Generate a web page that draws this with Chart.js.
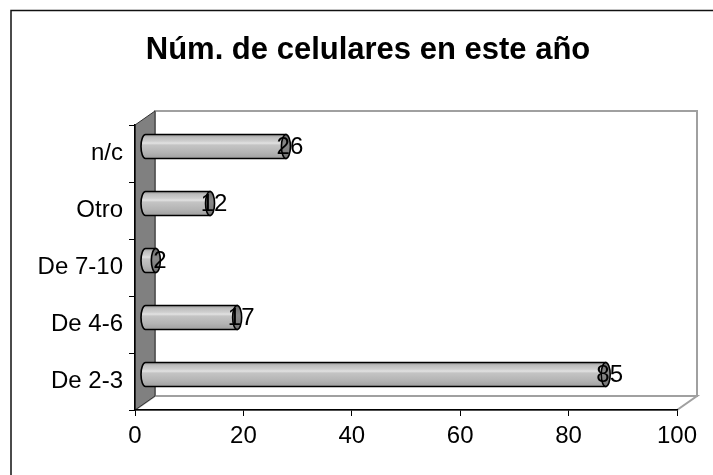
<!DOCTYPE html>
<html>
<head>
<meta charset="utf-8">
<script src="https://cdn.jsdelivr.net/npm/chart.js@4/dist/chart.umd.min.js"></script>
<style>
  html, body { margin: 0; padding: 0; background: #fff; }
  #c { display: block; }
</style>
</head>
<body>
<canvas id="c" width="713" height="475"></canvas>
<script>
// Survey: number of mobile phones this year
const chartTitle = 'Núm. de celulares en este año';
const categories = ['n/c', 'Otro', 'De 7-10', 'De 4-6', 'De 2-3'];
const counts = [26, 12, 2, 17, 85];
const xTicks = [0, 20, 40, 60, 80, 100];

const FONT = '"Liberation Sans", Arial, sans-serif';
const DEPTH_X = 20, DEPTH_Y = -14;   // 3-D depth of the plot box

// Back wall, side wall and floor of the 3-D box
const wallsPlugin = {
  id: 'walls',
  beforeDraw(chart) {
    const { ctx, chartArea: a } = chart;
    ctx.save();
    ctx.fillStyle = '#fff';
    ctx.fillRect(0, 0, chart.width, chart.height);

    // outer frame
    ctx.strokeStyle = '#111';
    ctx.lineWidth = 1.5;
    ctx.beginPath();
    ctx.moveTo(11, chart.height);
    ctx.lineTo(11, 10.5);
    ctx.lineTo(chart.width, 10.5);
    ctx.stroke();

    const L = a.left, R = a.right, T = a.top, B = a.bottom;
    // back wall
    ctx.strokeStyle = '#a0a0a0';
    ctx.lineWidth = 2;
    ctx.strokeRect(L + DEPTH_X, T + DEPTH_Y, R - L, B - T);

    // floor
    ctx.fillStyle = '#fff';
    ctx.beginPath();
    ctx.moveTo(L, B);
    ctx.lineTo(L + DEPTH_X, B + DEPTH_Y);
    ctx.lineTo(R + DEPTH_X, B + DEPTH_Y);
    ctx.lineTo(R, B);
    ctx.closePath();
    ctx.fill();
    ctx.stroke();

    // side wall
    ctx.fillStyle = '#808080';
    ctx.strokeStyle = '#333';
    ctx.lineWidth = 1;
    ctx.beginPath();
    ctx.moveTo(L, T);
    ctx.lineTo(L + DEPTH_X, T + DEPTH_Y);
    ctx.lineTo(L + DEPTH_X, B + DEPTH_Y);
    ctx.lineTo(L, B);
    ctx.closePath();
    ctx.fill();
    ctx.stroke();
    ctx.restore();
  },
  afterDraw(chart) {
    const { ctx } = chart;
    ctx.save();
    ctx.fillStyle = '#000';
    ctx.font = 'bold 31px ' + FONT;
    ctx.textAlign = 'center';
    ctx.textBaseline = 'alphabetic';
    ctx.fillText(chartTitle, 368, 59);
    ctx.restore();
  }
};

// Bars drawn as shaded cylinders sitting halfway into the box depth
const cylinderPlugin = {
  id: 'cylinders',
  beforeDatasetDraw() { return false; },
  afterDatasetsDraw(chart) {
    const { ctx } = chart;
    const meta = chart.getDatasetMeta(0);
    const ox = DEPTH_X / 2, oy = DEPTH_Y / 2;
    meta.data.forEach((bar, i) => {
      const p = bar.getProps(['x', 'y', 'base', 'height'], true);
      const x0 = p.base + ox, x1 = p.x + ox;
      const yc = p.y + oy, h = p.height;
      const top = yc - h / 2, bot = yc + h / 2;
      const rx = 4.5, ry = h / 2;

      const g = ctx.createLinearGradient(0, top, 0, bot);
      g.addColorStop(0, '#9a9a9a');
      g.addColorStop(0.12, '#bebebe');
      g.addColorStop(0.28, '#cfcfcf');
      g.addColorStop(0.36, '#e2e2e2');
      g.addColorStop(0.44, '#c4c4c4');
      g.addColorStop(0.75, '#b4b4b4');
      g.addColorStop(1, '#a0a0a0');

      ctx.save();
      ctx.lineWidth = 1.6;
      ctx.strokeStyle = '#000';
      ctx.fillStyle = g;
      ctx.beginPath();
      ctx.moveTo(x1, top);
      ctx.lineTo(x0, top);
      ctx.ellipse(x0, yc, rx, ry, 0, -Math.PI / 2, Math.PI / 2, true);
      ctx.lineTo(x1, bot);
      ctx.closePath();
      ctx.fill();
      ctx.stroke();

      // end cap
      const cg = ctx.createLinearGradient(0, top, 0, bot);
      cg.addColorStop(0, '#6a6a6a');
      cg.addColorStop(0.4, '#8a8a8a');
      cg.addColorStop(1, '#747474');
      ctx.fillStyle = cg;
      ctx.beginPath();
      ctx.ellipse(x1, yc, rx, ry, 0, 0, Math.PI * 2);
      ctx.fill();
      ctx.stroke();

      // value label
      ctx.fillStyle = '#000';
      ctx.font = '24px ' + FONT;
      ctx.textAlign = 'center';
      ctx.textBaseline = 'middle';
      ctx.fillText(String(counts[i]), x1 + 4, yc + 1);
      ctx.restore();
    });
  }
};

new Chart(document.getElementById('c'), {
  type: 'bar',
  data: {
    labels: categories,
    datasets: [{
      data: counts,
      backgroundColor: '#b4b4b4',
      categoryPercentage: 1,
      barPercentage: 0.42
    }]
  },
  options: {
    indexAxis: 'y',
    responsive: false,
    animation: false,
    devicePixelRatio: 1,
    layout: { padding: { top: 125, right: 36, left: 0, bottom: 0 } },
    plugins: {
      legend: { display: false },
      title: { display: false },
      tooltip: { enabled: false }
    },
    scales: {
      x: {
        min: 0,
        max: 100,
        afterFit(s) { s.height = 65; },
        afterBuildTicks(s) { s.ticks = xTicks.map(v => ({ value: v })); },
        ticks: { color: '#000', font: { family: FONT, size: 24 }, padding: 6, maxRotation: 0 },
        grid: { drawOnChartArea: false, drawTicks: true, tickLength: 6, color: '#000', lineWidth: 1 },
        border: { display: true, color: '#000', width: 1.5 }
      },
      y: {
        afterFit(s) { s.width = 135; },
        offset: true,
        ticks: { color: '#000', font: { family: FONT, size: 24 }, padding: 6 },
        grid: { offset: true, drawOnChartArea: false, drawTicks: true, tickLength: 6, color: '#000', lineWidth: 1 },
        border: { display: true, color: '#000', width: 1.5 }
      }
    }
  },
  plugins: [wallsPlugin, cylinderPlugin]
});
</script>
</body>
</html>
